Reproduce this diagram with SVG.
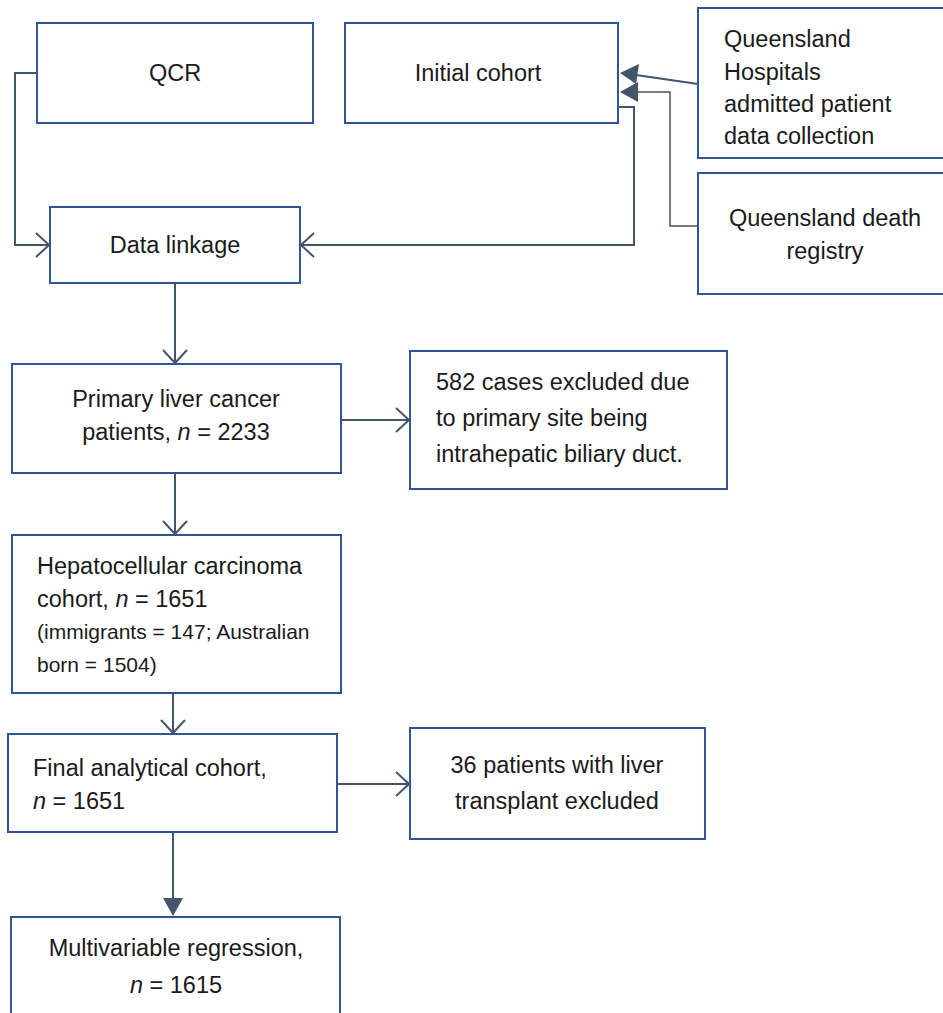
<svg xmlns="http://www.w3.org/2000/svg" width="943" height="1013" viewBox="0 0 943 1013">
<style>
.box{fill:#fff;stroke:#2F5597;stroke-width:2}
.t{font-family:"Liberation Sans",Arial,sans-serif;font-size:23.5px;fill:#1a1a1a}
.s{font-size:21px}
.c{fill:none;stroke:#44546A;stroke-width:2}
.open{fill:none;stroke:#44546A;stroke-width:2}
.fill{fill:#44546A;stroke:none}
</style>
<rect width="943" height="1013" fill="#fff"/>
<g id="connectors">
<path class="c" d="M37 73 H15 V245 H48"/>
<path class="open" d="M36 233 L49 245 L36 257"/>
<path class="c" d="M618 107 H634 V245 H302"/>
<path class="open" d="M314 233 L301 245 L314 257"/>
<path class="c" d="M698 84 L636 75"/>
<path class="fill" d="M620 73 L639 64 L636 84 Z"/>
<path class="c" style="stroke-width:1.5" d="M698 226 H670 V92 H636"/>
<path class="fill" d="M620 92 L638 82 L638 102 Z"/>
<path class="c" d="M175 283 V362"/>
<path class="open" d="M163 350 L175 363 L187 350"/>
<path class="c" d="M341 420 H408"/>
<path class="open" d="M396 408 L409 420 L396 432"/>
<path class="c" d="M175 473 V533"/>
<path class="open" d="M163 521 L175 534 L187 521"/>
<path class="c" d="M173 693 V732"/>
<path class="open" d="M161 720 L173 733 L185 720"/>
<path class="c" d="M337 784 H408"/>
<path class="open" d="M396 772 L409 784 L396 796"/>
<path class="c" d="M173 832 V900"/>
<path class="fill" d="M163 898 L183 898 L173 916 Z"/>
</g>
<g id="qcr"><rect class="box" x="37" y="23" width="276" height="100"/><text class="t" x="175" y="81" text-anchor="middle">QCR</text></g>
<g id="initial"><rect class="box" x="345" y="23" width="273" height="100"/><text class="t" x="478" y="81" text-anchor="middle">Initial cohort</text></g>
<g id="hospitals"><rect class="box" x="698" y="8" width="250" height="150"/>
<text class="t" x="724" y="47">Queensland</text><text class="t" x="724" y="80">Hospitals</text><text class="t" x="724" y="112">admitted patient</text><text class="t" x="724" y="144">data collection</text></g>
<g id="death"><rect class="box" x="698" y="173" width="250" height="121"/>
<text class="t" x="825" y="226" text-anchor="middle">Queensland death</text><text class="t" x="825" y="259" text-anchor="middle">registry</text></g>
<g id="linkage"><rect class="box" x="50" y="207" width="250" height="76"/><text class="t" x="175" y="253" text-anchor="middle">Data linkage</text></g>
<g id="primary"><rect class="box" x="12" y="364" width="329" height="109"/>
<text class="t" x="176" y="407" text-anchor="middle">Primary liver cancer</text><text class="t" x="176" y="440" text-anchor="middle">patients, <tspan font-style="italic">n</tspan> = 2233</text></g>
<g id="excluded582"><rect class="box" x="410" y="351" width="317" height="138"/>
<text class="t" x="436" y="390">582 cases excluded due</text><text class="t" x="436" y="426">to primary site being</text><text class="t" x="436" y="462">intrahepatic biliary duct.</text></g>
<g id="hcc"><rect class="box" x="12" y="535" width="329" height="158"/>
<text class="t" x="37" y="574">Hepatocellular carcinoma</text><text class="t" x="37" y="607">cohort, <tspan font-style="italic">n</tspan> = 1651</text>
<text class="t s" x="37" y="639">(immigrants = 147; Australian</text><text class="t s" x="37" y="672">born = 1504)</text></g>
<g id="final"><rect class="box" x="8" y="734" width="329" height="98"/>
<text class="t" x="33" y="776">Final analytical cohort,</text><text class="t" x="33" y="809"><tspan font-style="italic">n</tspan> = 1651</text></g>
<g id="excluded36"><rect class="box" x="410" y="728" width="295" height="111"/>
<text class="t" x="557" y="773" text-anchor="middle">36 patients with liver</text><text class="t" x="557" y="809" text-anchor="middle">transplant excluded</text></g>
<g id="multi"><rect class="box" x="11" y="917" width="329" height="100"/>
<text class="t" x="176" y="956" text-anchor="middle">Multivariable regression,</text><text class="t" x="176" y="993" text-anchor="middle"><tspan font-style="italic">n</tspan> = 1615</text></g>
</svg>
